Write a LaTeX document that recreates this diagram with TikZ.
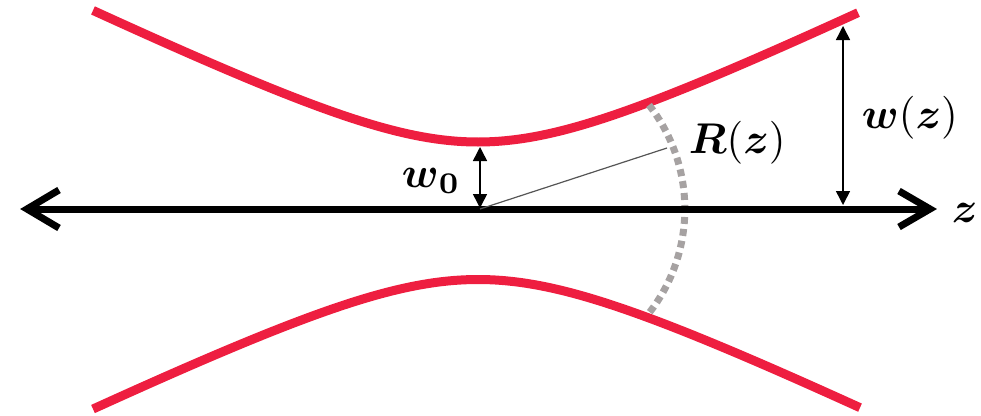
\documentclass[tikz,border=0pt]{standalone}
\usepackage{amsmath}
\usetikzlibrary{arrows.meta}
\definecolor{beamred}{RGB}{238,30,64}
\definecolor{arcgray}{RGB}{166,162,162}
\definecolor{radgray}{RGB}{85,85,85}
\tikzset{
  beam/.style={draw=beamred, line width=9pt, line cap=butt},
  axisline/.style={draw=black, line width=7pt},
  axishead/.style={draw=black, line width=7pt, line join=miter, line cap=butt},
  dimarrow/.style={draw=black, line width=1.5pt, {Triangle[length=14pt,width=14pt]}-{Triangle[length=14pt,width=14pt]}},
  wavefront/.style={draw=arcgray, line width=7pt, dash pattern=on 7pt off 5pt},
  radline/.style={draw=radgray, line width=1.2pt},
  lbl/.style={inner sep=0pt, anchor=base west, scale=4.3}
}
\begin{document}
\begin{tikzpicture}[x=1pt,y=-1pt]
\useasboundingbox (0,0) rectangle (981,415);
% beam envelope
\draw[beam] plot[domain=-385:380, samples=150] ({478+\x},{209-67*sqrt(1+(\x/138)^2)});
\draw[beam] plot[domain=-385:382, samples=150] ({478+\x},{209+70.5*sqrt(1+(\x/145)^2)});
% wavefront arc
\coordinate (arcC) at (516,209);
\coordinate (arcTop) at (649,105);
\draw[wavefront] (arcTop) arc[start angle=-38, end angle=38, radius=169];
% axis
\coordinate (axL) at (27,209);
\coordinate (axR) at (930,209);
\coordinate (O) at (480,209);
\draw[axisline] (axL) -- (axR);
\coordinate (hl1) at (59,190);
\coordinate (hl2) at (59,228);
\coordinate (hr1) at (899,191);
\coordinate (hr2) at (899,227);
\draw[axishead] (hl1) -- (axL) -- (hl2);
\draw[axishead] (hr1) -- (axR) -- (hr2);
% radius line
\coordinate (Rend) at (667,148);
\draw[radline] (O) -- (Rend);
% w0 arrow
\coordinate (w0top) at (480,147);
\coordinate (w0bot) at (480,208);
\draw[dimarrow] (w0top) -- (w0bot);
% w(z) arrow
\coordinate (wztop) at (843,26);
\coordinate (wzbot) at (843,205);
\draw[dimarrow] (wztop) -- (wzbot);
% labels
\node[lbl] (lw0) at (401,187) {$\boldsymbol{w}_{\boldsymbol{0}}$};
\node[lbl] (lR) at (688,153) {$\boldsymbol{R}(\boldsymbol{z})$};
\node[lbl] (lwz) at (861,128) {$\boldsymbol{w}(\boldsymbol{z})$};
\node[lbl] (lz) at (951,222) {$\boldsymbol{z}$};
\end{tikzpicture}
\end{document}
